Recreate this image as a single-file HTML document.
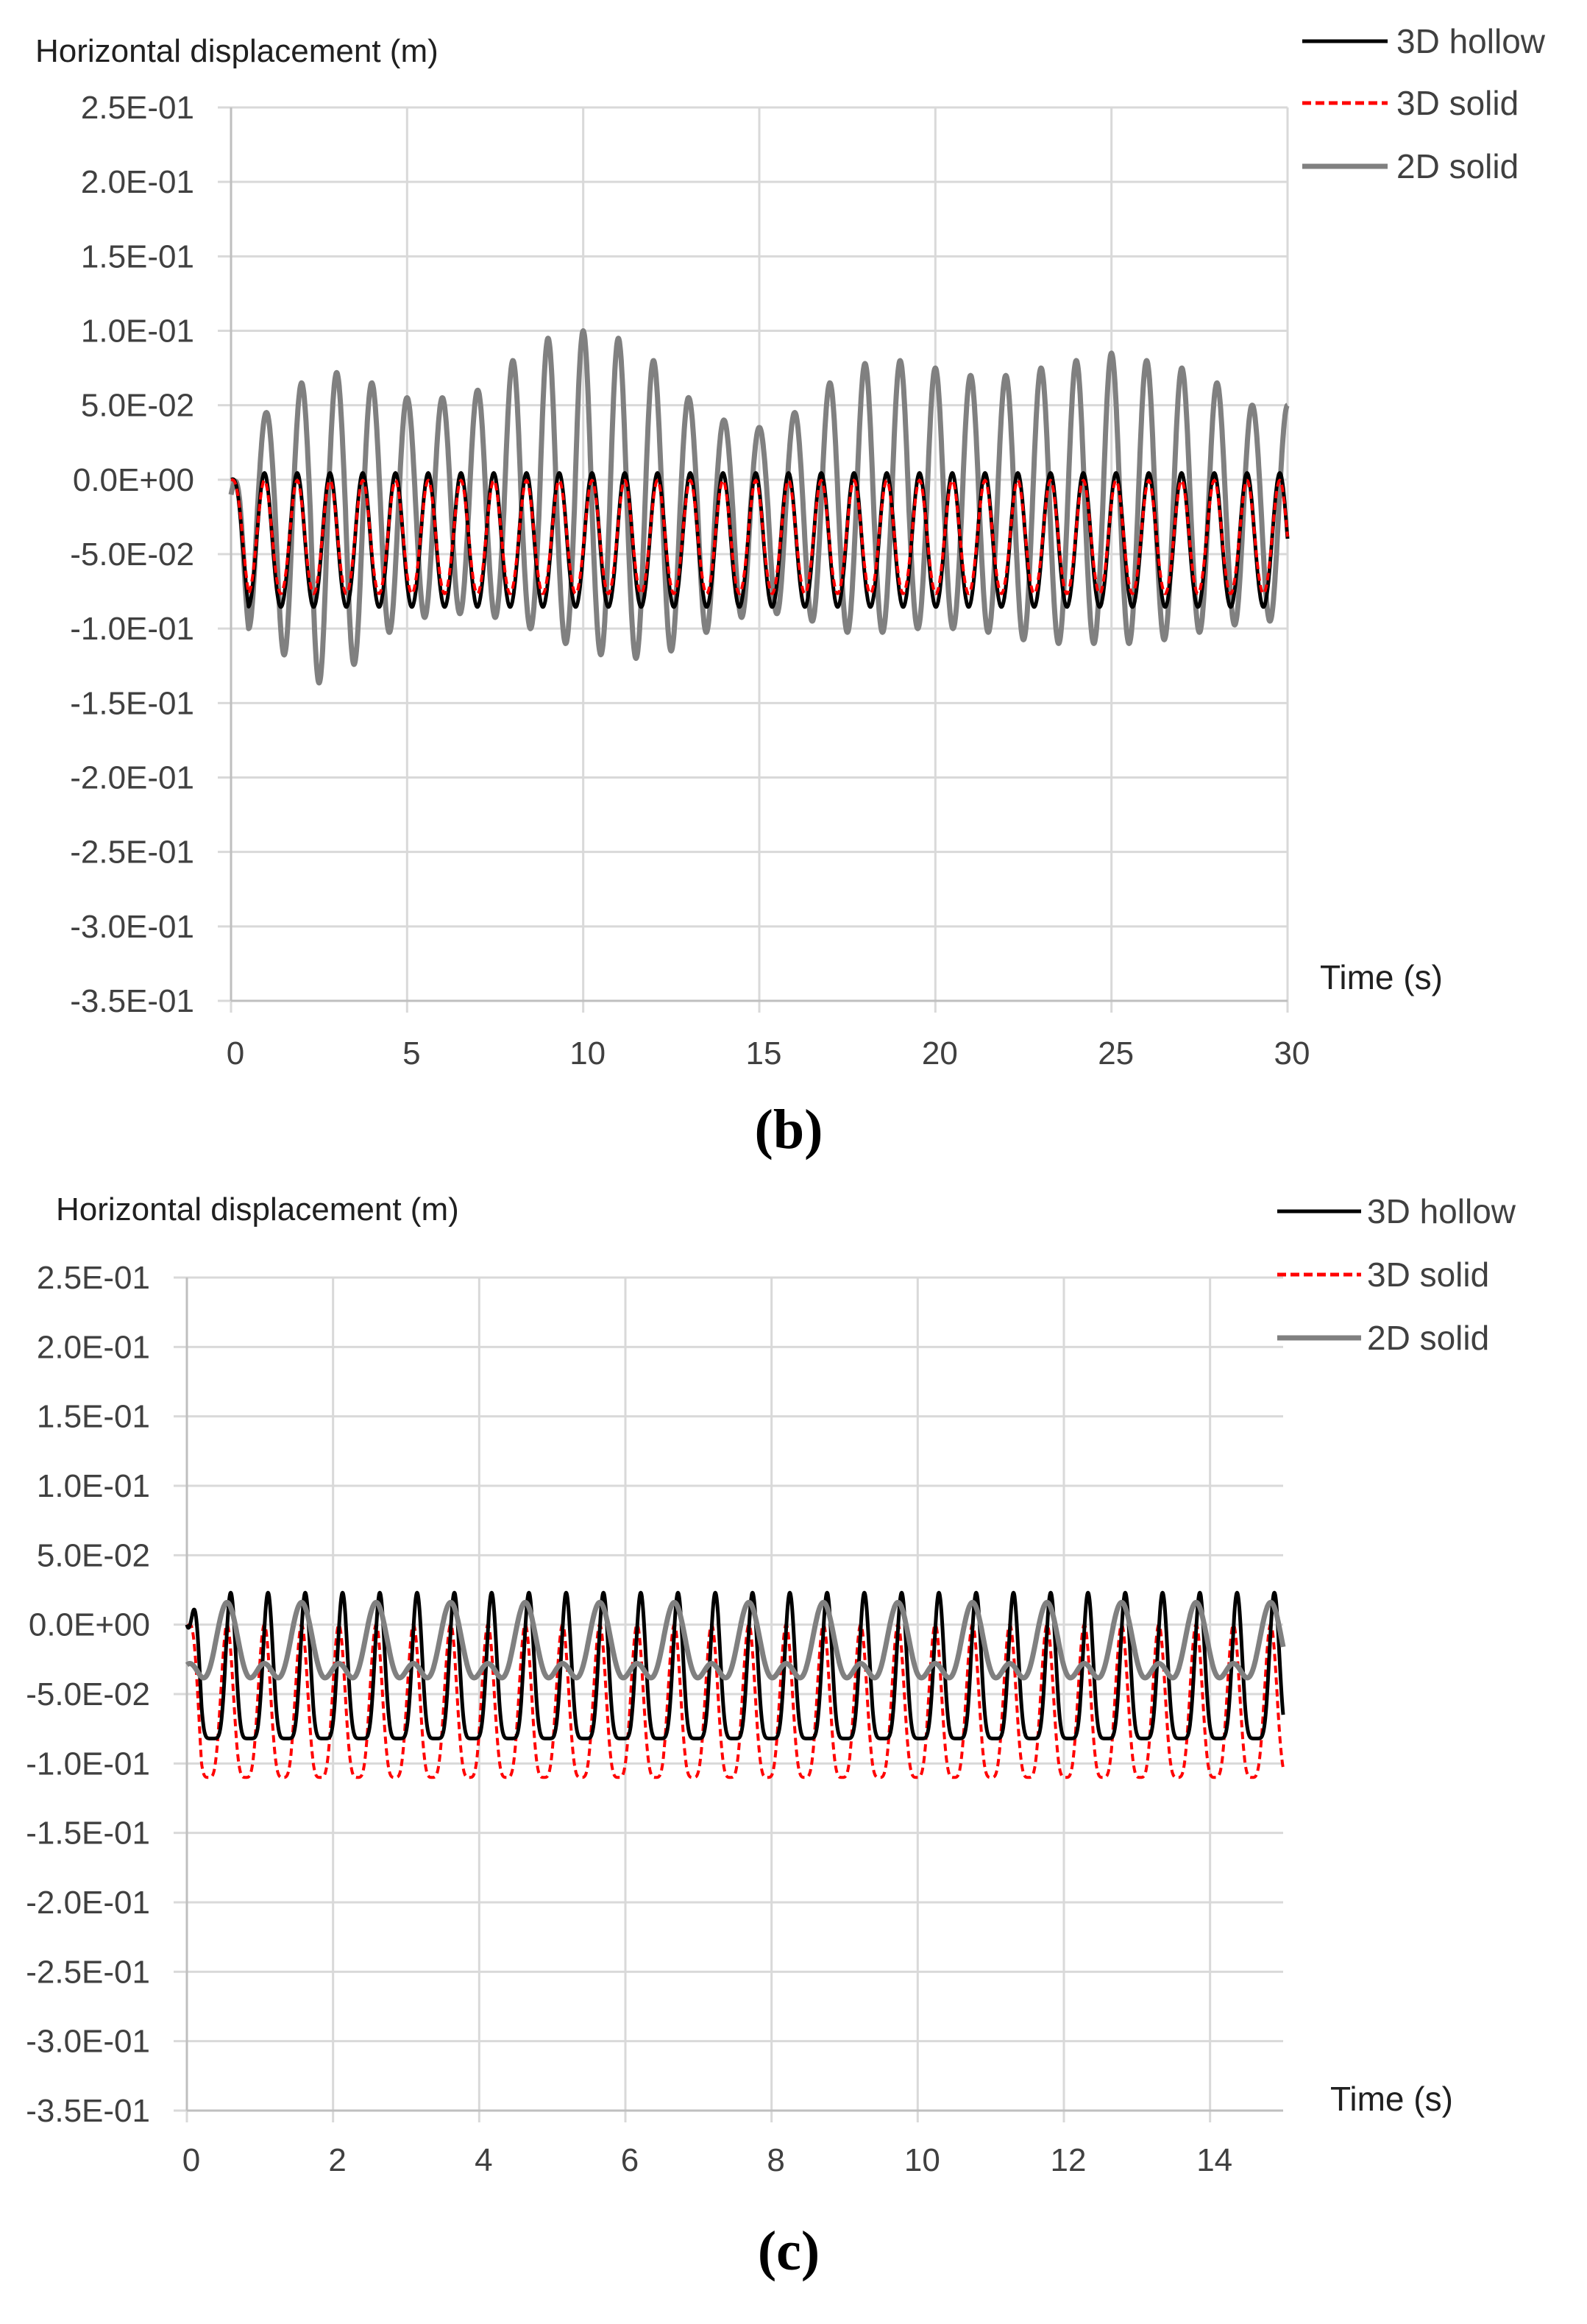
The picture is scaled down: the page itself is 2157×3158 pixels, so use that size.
<!DOCTYPE html>
<html><head><meta charset="utf-8"><style>
html,body{margin:0;padding:0;background:#fff;}
svg{display:block;}
text{font-family:"Liberation Sans",sans-serif;}
text.cap{font-family:"Liberation Serif",serif;font-weight:bold;}
</style></head><body>
<svg id="s" width="2157" height="3158" viewBox="0 0 2157 3158" xmlns="http://www.w3.org/2000/svg">
<rect width="2157" height="3158" fill="#fff"/>
<g id="g"></g>
</svg>
<script>
const NS="http://www.w3.org/2000/svg";
const G=document.getElementById('g');
function el(t,a,txt){const e=document.createElementNS(NS,t);for(const k in a)e.setAttribute(k,a[k]);if(txt!==undefined)e.textContent=txt;G.appendChild(e);return e;}
function chart(c){
  const {L,R,T,B,xmax,xstep,yLabX,title,tx,ty,legX,legY,legTX,timeX,timeY,xlabY,cap,capY,fs}=c;
  const yv=v=>T+(0.25-v)/0.6*(B-T);
  const xv=t=>L+t/xmax*(R-L);
  for(let i=0;i<=12;i++){const y=T+i*(B-T)/12;el('line',{x1:L-18,x2:R,y1:y,y2:y,stroke:'#d9d9d9','stroke-width':3});}
  for(let t=0;t<=xmax+1e-9;t+=xstep){const x=xv(t);el('line',{x1:x,x2:x,y1:T,y2:B+16,stroke:'#d9d9d9','stroke-width':3});}
  el('line',{x1:L,x2:L,y1:T,y2:B,stroke:'#bfbfbf','stroke-width':3});
  el('line',{x1:L,x2:R,y1:B,y2:B,stroke:'#bfbfbf','stroke-width':3});
  const labs=['2.5E-01','2.0E-01','1.5E-01','1.0E-01','5.0E-02','0.0E+00','-5.0E-02','-1.0E-01','-1.5E-01','-2.0E-01','-2.5E-01','-3.0E-01','-3.5E-01'];
  labs.forEach((s,i)=>{el('text',{x:yLabX,y:T+i*(B-T)/12+15,'text-anchor':'end','font-size':fs,fill:'#404040'},s);});
  for(let t=0;t<=xmax+1e-9;t+=xstep){el('text',{x:xv(t)+6,y:xlabY,'text-anchor':'middle','font-size':fs,fill:'#404040'},String(t));}
  el('text',{x:tx,y:ty,'font-size':fs,fill:'#202020'},title);
  el('text',{x:timeX,y:timeY,'font-size':fs+2,fill:'#202020'},'Time (s)');
  const ln=[['#000',5,null,'3D hollow'],['#ff0000',5,'12,6','3D solid'],['#808080',7,null,'2D solid']];
  ln.forEach((l,i)=>{const y=legY[i];const a={x1:legX[0],x2:legX[1],y1:y,y2:y,stroke:l[0],'stroke-width':l[1]};if(l[2])a['stroke-dasharray']=l[2];el('line',a);
    el('text',{x:legTX,y:y+16,'font-size':fs+2,fill:'#404040'},l[3]);});
  el('text',{x:1072,y:capY,'text-anchor':'middle','font-size':76,fill:'#000','class':'cap'},cap);
  function path(f,col,w,dash){let d='';const N=3000;for(let i=0;i<=N;i++){const t=i/N*xmax;d+=(i?'L':'M')+xv(t).toFixed(1)+','+yv(f(t)).toFixed(1);}
    const a={d:d,fill:'none',stroke:col,'stroke-width':w,'stroke-linejoin':'round'};if(dash)a['stroke-dasharray']=dash;el('path',a);}
  c.series.forEach(s=>path(s[0],s[1],s[2],s[3]));
}
const envB=[0.045,0.045,0.065,0.072,0.065,0.055,0.055,0.06,0.08,0.095,0.1,0.095,0.08,0.055,0.04,0.035,0.045,0.065,0.078,0.08,0.075,0.07,0.07,0.075,0.08,0.085,0.08,0.075,0.065,0.05,0.05];
const envBl=[0.1,0.1,0.135,0.138,0.11,0.095,0.09,0.09,0.095,0.105,0.115,0.12,0.12,0.11,0.095,0.09,0.09,0.1,0.105,0.1,0.1,0.1,0.105,0.11,0.11,0.11,0.11,0.105,0.1,0.095,0.095];
function interp(a,t){const i=Math.floor(t),f=t-i;const a0=a[Math.min(i,a.length-1)],a1=a[Math.min(i+1,a.length-1)];return a0+(a1-a0)*f;}
const ramp=t=>Math.min(1,t/0.5);
chart({L:314,R:1750,T:146,B:1360,xmax:30,xstep:5,yLabX:264,title:'Horizontal displacement (m)',tx:48,ty:84,
 legX:[1770,1886],legY:[56,140,226],legTX:1898,timeX:1794,timeY:1344,xlabY:1446,cap:'(b)',capY:1560,fs:44,
 series:[
  [t=>{const ph=Math.cos(2*Math.PI*(t-1.0)/1.0);const up=interp(envB,t),dn=interp(envBl,t);const v=ph>0?-0.02+(up+0.02)*ph:-0.02+(dn-0.02)*ph;return ramp(t)*v+(1-ramp(t))*(-0.01);},'#808080',7],
  [t=>{const ph=Math.cos(2*Math.PI*(t-0.95)/0.93);const h=0.15*Math.cos(4*Math.PI*(t-0.95)/0.93);return ramp(t)*(-0.042+0.045*ph+0.01*h);},'#000',5],
  [t=>{const ph=Math.cos(2*Math.PI*(t-0.95)/0.93);const h=0.15*Math.cos(4*Math.PI*(t-0.95)/0.93);return ramp(t)*(-0.04+0.038*ph+0.01*h);},'#ff0000',4,'10,6']
 ]});
const r2=t=>Math.min(1,t/0.2);
chart({L:254,R:1744,T:1736,B:2868,xmax:15,xstep:2,yLabX:204,title:'Horizontal displacement (m)',tx:76,ty:1658,
 legX:[1736,1850],legY:[1646,1732,1818],legTX:1858,timeX:1808,timeY:2868,xlabY:2950,cap:'(c)',capY:3084,fs:44,
 series:[
  [t=>{const p=(1+Math.cos(2*Math.PI*(t-0.55)/0.51))/2;return r2(t)*(-0.11+0.11*p*p);},'#ff0000',4,'10,6'],
  [t=>{const p=(1+Math.cos(2*Math.PI*(t-0.6)/0.51))/2;return r2(t)*(-0.082+0.105*p*p*p);},'#000',5],
  [t=>{const a=Math.cos(2*Math.PI*(t-0.55)/1.02),b=Math.cos(2*Math.PI*(t-0.55)/0.51);return -0.02+0.022*a+0.014*b;},'#808080',7]
 ]});
</script>
</body></html>
